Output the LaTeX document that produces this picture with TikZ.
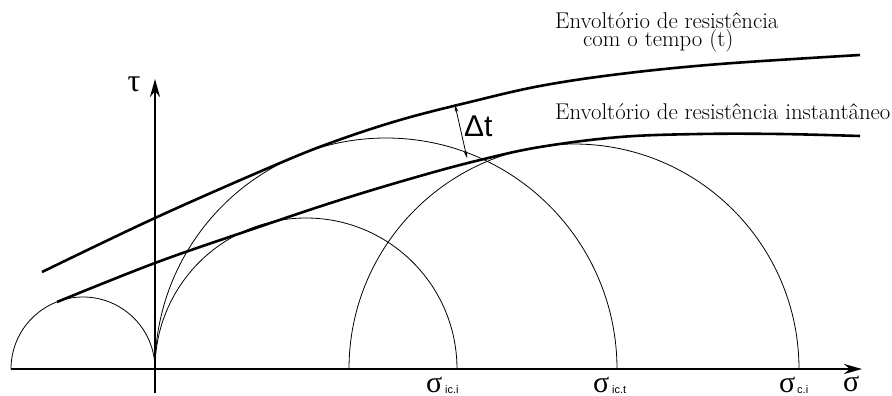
\documentclass[tikz,border=0pt]{standalone}
\usepackage{fontspec}
\newfontfamily\sansf{Liberation Sans}
\newfontfamily\serf{Liberation Serif}
\usetikzlibrary{arrows.meta}
\begin{document}
\begin{tikzpicture}[x=1pt,y=-1pt,
  axisline/.style={line width=2.6pt,-{Stealth[length=18pt,width=10pt]}},
  envline/.style={line width=2.6pt},
  mohr/.style={line width=0.8pt},
  lbl/.style={inner sep=0pt,anchor=base west,font=\fontsize{22.8}{18}\selectfont},
  sig/.style={inner sep=0pt,anchor=base west,font=\serf\fontsize{30}{30}\selectfont},
  subs/.style={inner sep=0pt,anchor=base west,font=\sansf\fontsize{11}{11}\selectfont}]
\useasboundingbox (0,0) rectangle (892,396);
% axes
\coordinate (xs) at (11,369);
\coordinate (xe) at (862,369);
\coordinate (ys) at (155,393);
\coordinate (ye) at (155,79);
\draw[axisline] (xs) -- (xe);
\draw[axisline] (ys) -- (ye);
% Mohr circles
\draw[mohr] (11,369) arc[start angle=180,end angle=360,radius=72];
\draw[mohr] (155,369) arc[start angle=180,end angle=360,radius=151];
\draw[mohr] (155,369) arc[start angle=180,end angle=360,radius=231];
\draw[mohr] (349,369) arc[start angle=180,end angle=360,radius=225];
% envelopes
\draw[envline] plot[smooth,tension=0.6] coordinates {(42,272) (155,218) (273,166) (333,142) (400,120) (470,102) (540,86) (620,74) (720,64) (860,55)};
\draw[envline] plot[smooth,tension=0.6] coordinates {(57,302) (155,263) (250,230) (340,200) (420,176) (480,160) (540,147) (620,137) (700,134) (780,134) (860,136)};
% delta t arrow
\coordinate (da) at (455,105);
\coordinate (db) at (467,158);
\draw[line width=0.8pt,{Stealth[length=7pt,width=3.5pt]}-{Stealth[length=7pt,width=3.5pt]}] (da) -- (db);
\node[inner sep=0pt,anchor=base west,font=\sansf\fontsize{30}{30}\selectfont] (dt) at (464,136) {Δt};
% labels
\node[lbl,align=left] (l1) at (555,47) {Envoltório de resistência\\\hspace*{28pt}com o tempo (t)};
\node[lbl] (l3) at (555,120) {Envoltório de resistência instantâneo};
\node[inner sep=0pt,font=\serf\fontsize{32}{32}\selectfont] (tau) at (134,84) {τ};
\node[sig] (s0) at (843,391) {σ};
\node[sig] (s1) at (426,392) {σ};
\node[subs] (b1) at (445,393) {ic.i};
\node[sig] (s2) at (593,392) {σ};
\node[subs] (b2) at (612,393) {ic.t};
\node[sig] (s3) at (779,392) {σ};
\node[subs] (b3) at (797,393) {c.i};
\end{tikzpicture}
\end{document}
